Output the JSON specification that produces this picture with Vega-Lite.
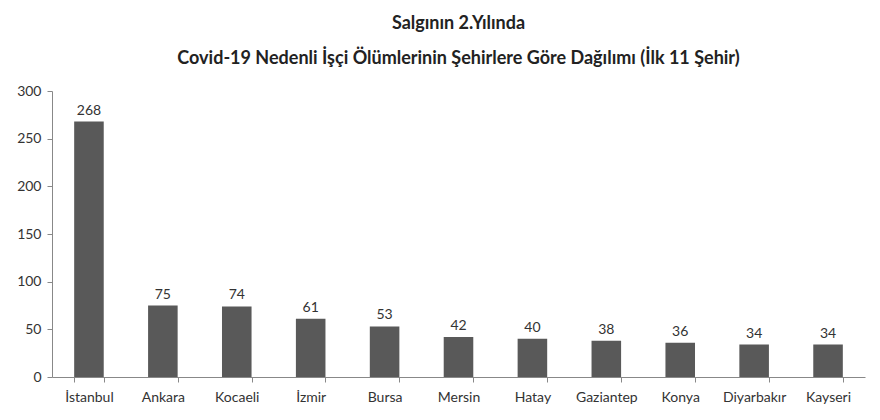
{
  "$schema": "https://vega.github.io/schema/vega-lite/v6.json",
  "background": "white",
  "autosize": "none",
  "padding": {"left": 52, "top": 91, "right": 15, "bottom": 43},
  "width": 813,
  "height": 286,
  "view": {"strokeWidth": 0},
  "config": {"font": "Lato"},
  "title": {
    "text": ["Salgının 2.Yılında", "Covid-19 Nedenli İşçi Ölümlerinin Şehirlere Göre Dağılımı (İlk 11 Şehir)"],
    "fontSize": 18,
    "fontWeight": "bold",
    "color": "#222222",
    "lineHeight": 35,
    "anchor": "middle",
    "offset": 16
  },
  "data": {
    "values": [
      {"sehir": "İstanbul", "olum": 268},
      {"sehir": "Ankara", "olum": 75},
      {"sehir": "Kocaeli", "olum": 74},
      {"sehir": "İzmir", "olum": 61},
      {"sehir": "Bursa", "olum": 53},
      {"sehir": "Mersin", "olum": 42},
      {"sehir": "Hatay", "olum": 40},
      {"sehir": "Gaziantep", "olum": 38},
      {"sehir": "Konya", "olum": 36},
      {"sehir": "Diyarbakır", "olum": 34},
      {"sehir": "Kayseri", "olum": 34}
    ]
  },
  "encoding": {
    "x": {
      "field": "sehir",
      "type": "nominal",
      "sort": null,
      "scale": {"paddingInner": 0.6, "paddingOuter": 0.3},
      "axis": {
        "title": null,
        "labelAngle": 0,
        "labelFontSize": 14,
        "labelColor": "#333333",
        "labelPadding": 8,
        "tickBand": "extent",
        "tickColor": "#888888",
        "tickSize": 5,
        "domainColor": "#888888"
      }
    },
    "y": {
      "field": "olum",
      "type": "quantitative",
      "scale": {"domain": [0, 300]},
      "axis": {
        "title": null,
        "values": [0, 50, 100, 150, 200, 250, 300],
        "grid": false,
        "labelFontSize": 14,
        "labelColor": "#333333",
        "labelPadding": 6,
        "tickColor": "#888888",
        "tickSize": 5,
        "domainColor": "#888888"
      }
    }
  },
  "layer": [
    {"mark": {"type": "bar", "color": "#595959"}},
    {
      "mark": {"type": "text", "baseline": "bottom", "dy": -4, "fontSize": 14, "color": "#333333"},
      "encoding": {"text": {"field": "olum", "type": "quantitative"}}
    }
  ]
}
